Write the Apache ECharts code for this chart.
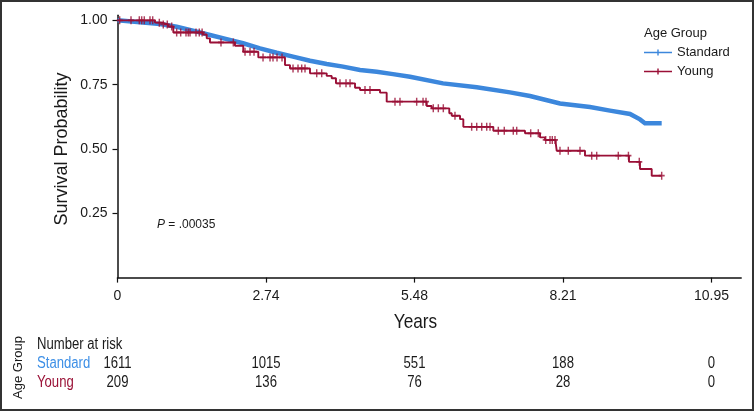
<!DOCTYPE html>
<html><head><meta charset="utf-8">
<script src="https://cdn.jsdelivr.net/npm/echarts@6/dist/echarts.min.js"></script>
<style>html,body{margin:0;padding:0;background:#fff}#c{width:754px;height:411px}</style>
</head><body><div id="c"></div>
<script>
// ---- data ----
const xTicks = [0, 2.7379, 5.4757, 8.2136, 10.9514];
const xTickLabels = ['0', '2.74', '5.48', '8.21', '10.95'];
const yTickValues = [0.25, 0.5, 0.75, 1.0];
const yTickLabels = ['0.25', '0.50', '0.75', '1.00'];

const standardTimes = [0, 0.784, 1.091, 1.392, 1.705, 2.013, 2.314, 2.627, 2.935, 3.236, 3.549, 3.857, 4.158, 4.471, 4.779, 5.079, 5.393, 6.001, 6.623, 7.236, 7.605, 8.158, 8.711, 9.080, 9.449, 9.633, 9.725, 10.033];
const standardSurv  = [1.000, 0.986, 0.975, 0.960, 0.943, 0.927, 0.911, 0.891, 0.874, 0.859, 0.843, 0.830, 0.820, 0.807, 0.800, 0.791, 0.781, 0.755, 0.740, 0.720, 0.706, 0.677, 0.663, 0.649, 0.636, 0.615, 0.600, 0.600];

const youngTimes = [0, 0.691, 0.820, 0.931, 1.029, 1.576, 1.645, 1.705, 2.166, 2.319, 2.596, 3.088, 3.180, 3.549, 3.857, 3.949, 4.028, 4.379, 4.471, 4.840, 4.963, 5.701, 5.793, 6.117, 6.162, 6.315, 6.376, 6.929, 7.513, 7.790, 7.882, 8.080, 8.098, 8.619, 9.430, 9.633, 9.849, 10.033];
const youngSurv  = [1.000, 0.991, 0.984, 0.976, 0.953, 0.945, 0.930, 0.914, 0.901, 0.878, 0.856, 0.826, 0.813, 0.794, 0.784, 0.775, 0.755, 0.738, 0.729, 0.719, 0.684, 0.667, 0.658, 0.639, 0.629, 0.616, 0.586, 0.571, 0.561, 0.545, 0.535, 0.522, 0.493, 0.474, 0.450, 0.422, 0.396, 0.396];
const youngCensor = [0.04, 0.249, 0.402, 0.446, 0.494, 0.599, 0.649, 0.771, 0.844, 0.918, 0.999, 1.091, 1.165, 1.263, 1.305, 1.337, 1.447, 1.508, 1.560, 1.908, 2.135, 2.351, 2.443, 2.517, 2.683, 2.812, 2.867, 2.941, 3.033, 3.236, 3.328, 3.396, 3.457, 3.673, 3.765, 4.102, 4.213, 4.287, 4.563, 4.655, 5.116, 5.208, 5.516, 5.633, 5.688, 5.822, 5.915, 6.007, 6.222, 6.530, 6.623, 6.715, 6.807, 6.868, 7.021, 7.131, 7.297, 7.360, 7.618, 7.758, 7.895, 7.974, 8.016, 8.066, 8.158, 8.311, 8.527, 8.743, 8.835, 9.233, 9.420, 9.620, 10.033];

const groups = ['Standard', 'Young'];
const riskStandard = [1611, 1015, 551, 188, 0];
const riskYoung = [209, 136, 76, 28, 0];
const pValueText = '.00035';

// ---- styles ----
const BLUE = '#3c87dc', RED = '#9a0f36';
const TXT = '#1a1a1a';
const REG = "'Liberation Sans', Arial, sans-serif";
const NX = 0.82; // horizontal condensing for the narrow-looking texts

function survAt(times, surv, t) {
  let v = surv[0];
  for (let i = 0; i < times.length; i++) { if (times[i] <= t + 1e-9) v = surv[i]; }
  return v;
}
const plusPath = 'path://M3.8,0H6.2V10H3.8Z M0,3.9H10V6.1H0Z';
const legendIcon = 'path://M0,3.2H28V4.8H0Z M13.3,1H14.7V7H13.3Z';

const chart = echarts.init(document.getElementById('c'), null, { renderer: 'canvas' });
chart.setOption({
  animation: false,
  backgroundColor: '#fff',
  grid: { left: 117.5, top: 15.2, width: 623.7, height: 262.4, containLabel: false },
  xAxis: {
    type: 'value', min: 0, max: 11.499, interval: 2.7379,
    splitLine: { show: false },
    axisLine: { lineStyle: { color: '#111', width: 1.5 } },
    axisTick: { length: 5, lineStyle: { color: '#111', width: 1.2 }, customValues: xTicks },
    axisLabel: {
      customValues: xTicks, margin: 12, color: TXT, fontFamily: REG, fontSize: 14,
      formatter: v => { const i = xTicks.findIndex(t => Math.abs(t - v) < 1e-3); return i >= 0 ? xTickLabels[i] : ''; }
    }
  },
  yAxis: {
    type: 'value', min: 0, max: 1.02, interval: 0.25,
    splitLine: { show: false },
    axisLine: { lineStyle: { color: '#111', width: 1.5 } },
    axisTick: { length: 5, lineStyle: { color: '#111', width: 1.2 }, customValues: yTickValues },
    axisLabel: {
      customValues: yTickValues, margin: 10, color: TXT, fontFamily: REG, fontSize: 14,
      formatter: v => { const i = yTickValues.findIndex(t => Math.abs(t - v) < 1e-6); return i >= 0 ? yTickLabels[i] : ''; }
    }
  },
  legend: {
    orient: 'vertical', left: 644, top: 46, padding: 0, itemWidth: 28, itemHeight: 8, itemGap: 6,
    textStyle: { color: TXT, fontFamily: REG, fontSize: 13 },
    data: [{ name: groups[0], icon: legendIcon }, { name: groups[1], icon: legendIcon }],
    selectedMode: false
  },
  series: [
    {
      name: groups[0], type: 'line', color: BLUE, showSymbol: false, symbol: 'none',
      data: standardTimes.map((t, i) => [t, standardSurv[i]]),
      lineStyle: { width: 4.5, color: BLUE, cap: 'butt', join: 'miter' }, z: 2
    },
    {
      name: groups[1], type: 'line', color: RED, step: 'end', showSymbol: false, symbol: 'none',
      data: youngTimes.map((t, i) => [t, youngSurv[i]]),
      lineStyle: { width: 1.9, color: RED }, z: 3
    },
    {
      name: 'Young censored', type: 'scatter', color: RED, symbol: plusPath, symbolSize: [6, 8],
      data: youngCensor.map(t => [t, survAt(youngTimes, youngSurv, t)]),
      itemStyle: { color: RED }, z: 4, silent: true
    }
  ]
});

const px = xTicks.map(t => chart.convertToPixel({ xAxisIndex: 0 }, t));
const g = [
  { type: 'rect', shape: { x: 1, y: 1, width: 752, height: 409 }, style: { fill: 'none', stroke: '#333', lineWidth: 2 }, silent: true },
  { type: 'text', x: 644, y: 33, style: { text: 'Age Group', fill: TXT, font: '13px ' + REG, textVerticalAlign: 'middle' } },
  { type: 'text', x: 62, y: 149, rotation: Math.PI / 2, style: { text: 'Survival Probability', fill: TXT, font: '18px ' + REG, textAlign: 'center', textVerticalAlign: 'middle' } },
  { type: 'text', x: 157, y: 225, style: { text: '{i|P} = ' + pValueText, fill: TXT, font: '12px ' + REG, textVerticalAlign: 'middle', rich: { i: { fontStyle: 'italic', fontSize: 12, fontFamily: REG, fill: TXT } } } },
  { type: 'text', x: px[2] + 1, y: 322, scaleX: NX, style: { text: 'Years', fill: TXT, font: '21px ' + REG, textAlign: 'center', textVerticalAlign: 'middle' } },
  { type: 'text', x: 18.5, y: 367.5, rotation: Math.PI / 2, style: { text: 'Age Group', fill: TXT, font: '13px ' + REG, textAlign: 'center', textVerticalAlign: 'middle' } },
  { type: 'text', x: 37, y: 345, scaleX: NX, style: { text: 'Number at risk', fill: TXT, font: '16px ' + REG, textVerticalAlign: 'middle' } },
  { type: 'text', x: 37, y: 364, scaleX: NX, style: { text: groups[0], fill: '#3d8fe6', font: '16px ' + REG, textVerticalAlign: 'middle' } },
  { type: 'text', x: 37, y: 383, scaleX: NX, style: { text: groups[1], fill: '#9b1338', font: '16px ' + REG, textVerticalAlign: 'middle' } }
];
riskStandard.forEach((n, i) => g.push({ type: 'text', x: px[i], y: 364, scaleX: NX, style: { text: String(n), fill: TXT, font: '16px ' + REG, textAlign: 'center', textVerticalAlign: 'middle' } }));
riskYoung.forEach((n, i) => g.push({ type: 'text', x: px[i], y: 383, scaleX: NX, style: { text: String(n), fill: TXT, font: '16px ' + REG, textAlign: 'center', textVerticalAlign: 'middle' } }));
chart.setOption({ graphic: g });
</script>
</body></html>
